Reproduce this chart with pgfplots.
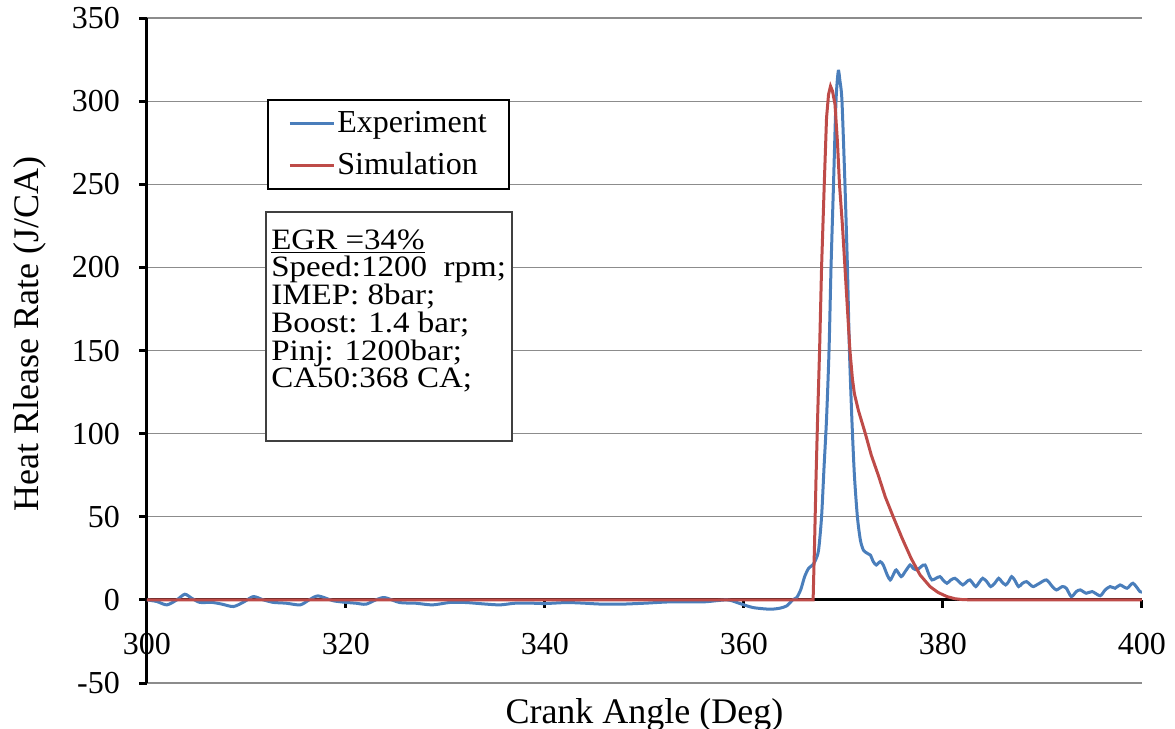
\documentclass[border=0pt]{standalone}
\usepackage{pgfplots}
\pgfplotsset{compat=1.18}
\usepackage{fontspec}
\setmainfont{Liberation Serif}
\definecolor{expblue}{HTML}{4A7EBB}
\definecolor{simred}{HTML}{BE4B48}
\definecolor{gridgray}{HTML}{8C8C8C}
\begin{document}
\begin{tikzpicture}
\begin{axis}[
  scale only axis, width=497.5pt, height=332.5pt,
  xmin=300, xmax=400, ymin=-50, ymax=350,
  axis x line=middle, axis y line=left,
  axis line style={-, line width=1.5pt, black},
  hide obscured x ticks=false, hide obscured y ticks=false,
  xtick={300,320,340,360,380,400}, xticklabels={300,320,340,360,380,400},
  ytick={-50,0,50,100,150,200,250,300,350},
  yticklabels={-50,0,50,100,150,200,250,300,350},
  tick align=outside, major tick length=4pt,
  tick style={line width=1.5pt, black},
  ymajorgrids, grid style={gridgray, line width=0.6pt},
  ticklabel style={font=\fontsize{16}{19}\selectfont},
  xticklabel style={yshift=-9pt},
  yticklabel style={xshift=-6pt},
  xlabel={Crank Angle (Deg)}, ylabel={Heat Rlease Rate (J/CA)},
  label style={font=\fontsize{18}{21}\selectfont},
  xlabel style={at={(axis description cs:0.5,0)}, anchor=north, yshift=-4pt},
  ylabel style={at={(axis description cs:-0.1176,0.525)}, anchor=center},
  legend style={at={(axis cs:312.1,301.1)}, anchor=north west, draw=black,
    line width=1pt, fill=white, font=\fontsize{16}{19}\selectfont,
    inner xsep=10pt, inner ysep=3.5pt, row sep=4.5pt,
    nodes={inner xsep=1pt}},
  legend cell align=left,
  legend image code/.code={\draw[#1, line width=1.5pt] (0pt,0pt) -- (22pt,0pt);},
]
\addplot[expblue, line width=1.5pt, smooth, tension=0.45] coordinates {
(300,0) (301,-1) (302,-3) (303,0) (303.8,3.4) (304.5,1) (305.3,-1.5) (306.5,-1.5)
(307.5,-2.5) (308.7,-4) (309.8,-1) (310.7,2) (311.7,0) (312.7,-1.5) (314,-2)
(315.4,-3) (316.3,0) (317.2,2.4) (318.7,-0.5) (320,-1.5) (321,-2) (322,-2.6)
(323,0) (323.9,1.4) (325.4,-1.6) (327,-2) (328.7,-3) (330.5,-1.5) (332.1,-1.6)
(334,-2.5) (335.5,-3) (337,-2) (338.8,-2) (340,-2.2) (342.2,-1.6) (344,-2)
(345.5,-2.5) (347.5,-2.6) (350,-2) (352.6,-1.2) (355.9,-1.2) (358.3,0)
(359.5,-2) (360.9,-4.6) (362.6,-5.6) (363.6,-5) (364.3,-3.6) (364.9,0)
(365.3,1.4) (365.7,6) (366.1,14) (366.5,19) (366.9,21) (367.2,24) (367.5,30)
(367.8,50) (368.05,80) (368.3,109) (368.55,150) (368.75,200) (369.0,250)
(369.25,300) (369.48,318) (369.65,312) (369.85,300) (370.15,250) (370.4,200)
(370.6,150) (370.85,108) (371.1,75) (371.4,50) (371.7,36) (372.0,30)
(372.4,28) (372.7,27) (373.0,23) (373.3,21) (373.7,23) (374.0,21)
(374.4,15) (374.7,12) (375.0,15) (375.3,18) (375.8,14) (376.2,17)
(376.7,21) (377.0,19) (377.4,18) (377.8,20) (378.2,21) (378.6,15) (378.9,12)
(379.3,13) (379.7,14) (380.0,12) (380.4,10) (380.8,12) (381.2,13) (381.6,11)
(382.0,9) (382.4,11) (382.7,12) (383.0,10) (383.3,8) (383.7,11) (384.0,13)
(384.4,11) (384.8,8) (385.2,10) (385.6,13) (385.9,11) (386.3,9) (386.6,11)
(386.9,14) (387.2,12) (387.6,8) (388.0,10) (388.4,11) (388.8,9) (389.1,8)
(389.7,10) (390.4,12) (391.0,8) (391.4,6) (392.0,8) (392.4,7) (392.9,2)
(393.4,5) (393.8,6) (394.4,4) (395.0,5) (395.8,2.5) (396.3,6) (396.8,8)
(397.3,7) (397.8,9) (398.5,7) (399.1,10) (399.8,5) (400,5)
};
\addlegendentry{Experiment}
\addplot[simred, line width=1.5pt] coordinates {
(300,0) (366.95,0) (367.1,35) (367.25,75) (367.4,109) (367.6,150) (367.8,200)
(368.07,250) (368.3,290) (368.5,304) (368.7,309) (368.9,306) (369.15,298)
(369.4,275) (369.6,250) (369.9,225) (370.15,200) (370.4,175) (370.65,150)
(370.9,133) (371.1,124) (371.3,119) (371.5,114) (371.8,108) (372.2,100)
(372.8,87) (373.5,75) (374.2,62) (375.0,50) (375.9,37) (376.8,25)
(377.7,15) (378.7,8) (379.5,4.5) (380.4,2) (381.2,0.7) (382,0.15) (383,0) (400,0)
};
\addlegendentry{Simulation}
\draw[line width=0.8pt, black!75, fill=white] (axis cs:311.96,233.2) rectangle (axis cs:336.68,95.6);
\node[anchor=north west, align=left, inner sep=0pt, xscale=1.115,
  font=\fontsize{14.8}{13.85}\selectfont] at (axis cs:312.45,223)
  {\underline{EGR =34\%}\\ Speed:1200\ \ rpm;\\ IMEP: 8bar;\\ Boost: 1.4 bar;\\ Pinj: 1200bar;\\ CA50:368 CA;};
\coordinate (bbsw) at (axis description cs:-0.1477,-0.0677);
\coordinate (bbne) at (axis description cs:1.0332,1.0271);
\end{axis}
\pgfresetboundingbox
\useasboundingbox (bbsw) rectangle (bbne);
\end{tikzpicture}
\end{document}
